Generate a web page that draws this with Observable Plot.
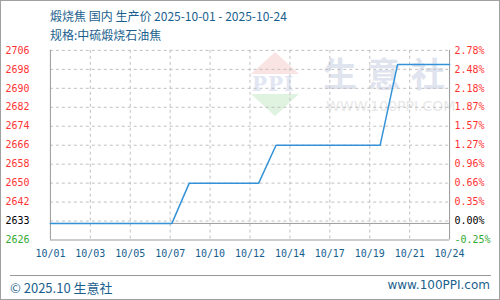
<!DOCTYPE html>
<html><head><meta charset="utf-8">
<script src="https://cdn.jsdelivr.net/npm/d3@7"></script>
<script src="https://cdn.jsdelivr.net/npm/@observablehq/plot@0.6"></script>
<style>
html,body{margin:0;padding:0;background:#fff;}
#wrap{position:relative;width:498px;height:298px;border:1px solid #a0a0a0;overflow:hidden;font-family:"Noto Sans CJK SC","Noto Sans",sans-serif;}
.t{position:absolute;color:#1b5f8e;white-space:nowrap;}
#chart{position:absolute;left:-1px;top:-1px;}
.wm{position:absolute;white-space:nowrap;}
</style></head>
<body><div id="wrap">
<div class="wm" style="left:250px;top:51px;width:0;height:0;border-left:24px solid transparent;border-right:24px solid transparent;border-bottom:22px solid #fae3e3;"></div>
<div class="wm" style="left:251px;top:71px;font:bold 20px 'DejaVu Serif',serif;color:#e2e6f2;letter-spacing:1px;">PPI</div>
<div class="wm" style="left:250px;top:93px;width:0;height:0;border-left:24px solid transparent;border-right:24px solid transparent;border-top:22px solid #e0f2e0;"></div>
<div class="wm" style="left:322px;top:47px;font:bold 34px 'Noto Sans CJK SC';color:#e0e4ee;letter-spacing:10px;">生意社</div>
<div class="wm" style="left:325px;top:97px;font:14px 'DejaVu Sans';color:#e8e8e8;">WWW.100PPI.COM</div>
<div id="chart"></div>
<div class="t" id="title" style="left:49px;top:6px;font-size:12px;"></div>
<div class="t" id="sub" style="left:49px;top:25px;font-size:12px;"></div>
<div style="position:absolute;left:9px;top:274px;width:481px;height:0;border-top:1px solid #999;"></div>
<div class="t" id="foot1" style="left:9px;top:277px;font-size:13px;"></div>
<div class="t" id="foot2" style="right:9px;top:277px;font-family:'DejaVu Sans';font-size:12px;"></div>
</div>
<script>
const titleText = "煅烧焦 国内 生产价 2025-10-01 - 2025-10-24";
const subText = "规格:中硫煅烧石油焦";
const footLeft = "© 2025.10 生意社";
const footRight = "www.100PPI.com";

const dates = ["2025-10-01","2025-10-02","2025-10-03","2025-10-04","2025-10-05","2025-10-06","2025-10-07","2025-10-08",
  "2025-10-09","2025-10-10","2025-10-11","2025-10-12","2025-10-13",
  "2025-10-14","2025-10-15","2025-10-16","2025-10-17","2025-10-18","2025-10-19","2025-10-20",
  "2025-10-21","2025-10-22","2025-10-23","2025-10-24"];
const prices = [2633,2633,2633,2633,2633,2633,2633,2633,
  2650,2650,2650,2650,2650,
  2666,2666,2666,2666,2666,2666,2666,
  2700,2700,2700,2700];

const xTickLabels = ["10/01","10/03","10/05","10/07","10/10","10/12","10/14","10/17","10/19","10/21","10/24"];
const yTickLabels = ["2706","2698","2690","2682","2674","2666","2658","2650","2642","2633","2626"];
const pctTickLabels = ["2.78%","2.48%","2.18%","1.87%","1.57%","1.27%","0.96%","0.66%","0.35%","0.00%","-0.25%"];
const basePrice = 2633;
const yMin = 2626, yMax = 2706, yStep = 8;

document.getElementById("title").textContent = titleText;
document.getElementById("sub").textContent = subText;
document.getElementById("foot1").textContent = footLeft;
document.getElementById("foot2").textContent = footRight;

const data = dates.map((d,i)=>({date:new Date(d+"T00:00:00Z"), price:prices[i]}));
const x0 = data[0].date, x1 = data[data.length-1].date;
const xTicks = d3.range(xTickLabels.length).map(k => new Date(+x0 + k*(x1-x0)/(xTickLabels.length-1)));
const yTicks = d3.range(yTickLabels.length-1).map(k => yMax - k*yStep).concat([yMin]);
const labelColor = (i) => i === yTickLabels.length-1 ? "#33aa33" : (i === yTickLabels.length-2 ? "#000" : "#ff3333");
const idxOfY = v => yTicks.indexOf(v);

const chart = Plot.plot({
  width: 500, height: 300,
  marginTop: 50, marginBottom: 60, marginLeft: 50, marginRight: 50,
  style: {fontFamily: "'DejaVu Sans Mono', monospace", fontSize: "10px", background: "transparent", overflow: "visible"},
  x: {type: "utc", domain: [x0, x1], label: null},
  y: {domain: [yMin, yMax], label: null},
  marks: [
    Plot.gridX(xTicks.slice(1,-1), {stroke: "#c0c0c0", strokeOpacity: 1, strokeDasharray: "3,3"}),
    Plot.gridY(yTicks.slice(0,-1), {stroke: "#c0c0c0", strokeOpacity: 1, strokeDasharray: "3,3"}),
    Plot.ruleY([basePrice], {stroke: "#999"}),
    Plot.ruleY([yMin], {stroke: "#999"}),
    Plot.ruleX([x0, x1], {stroke: "#999"}),
    Plot.line(data, {x: "date", y: "price", stroke: "#3493d8", strokeWidth: 1.5}),
    Plot.axisX(xTicks, {anchor: "bottom", tickSize: 0, tickPadding: 10, fill: "#15608f", label: null,
      tickFormat: (d, i) => xTickLabels[i]}),
    Plot.axisY(yTicks, {anchor: "left", tickSize: 0, tickPadding: 45, textAnchor: "start", label: null,
      tickFormat: (d) => yTickLabels[idxOfY(d)], fill: (d) => labelColor(idxOfY(d))}),
    Plot.axisY(yTicks, {anchor: "right", tickSize: 0, tickPadding: 5, textAnchor: "start", label: null,
      tickFormat: (d) => pctTickLabels[idxOfY(d)], fill: (d) => labelColor(idxOfY(d))})
  ]
});
document.getElementById("chart").appendChild(chart);
</script>
</body></html>
